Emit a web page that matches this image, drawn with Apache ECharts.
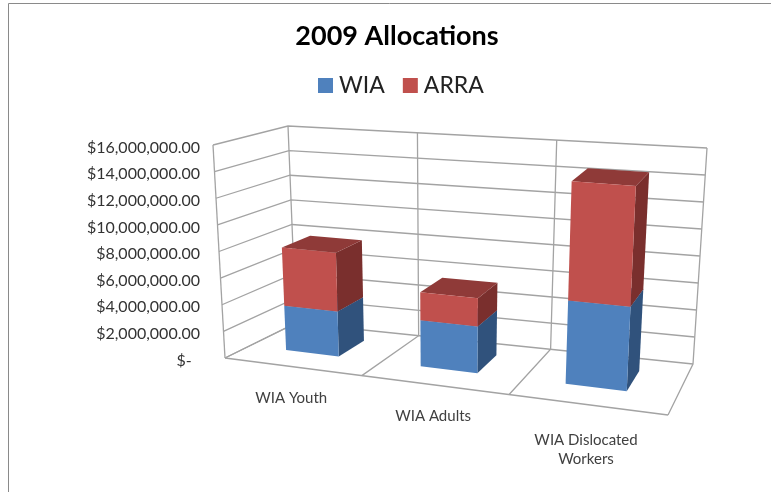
<!DOCTYPE html>
<html>
<head>
<meta charset="utf-8">
<style>
  html, body { margin: 0; padding: 0; background: #fff; }
  #chart { width: 771px; height: 492px; }
</style>
<script src="https://cdn.jsdelivr.net/npm/echarts@6/dist/echarts.min.js"></script>
</head>
<body>
<div id="chart"></div>
<script>
var categories = ['WIA Youth', 'WIA Adults', 'WIA Dislocated\nWorkers'];
var wiaValues = [3400000, 3420000, 6000000];
var arraValues = [4450000, 2080000, 8600000];
var yMax = 16000000;
var yStep = 2000000;
var yTicks = [0, 2000000, 4000000, 6000000, 8000000, 10000000, 12000000, 14000000, 16000000];

var FONT = 'Lato';
var GRID_LEFT = 204, GRID_TOP = 145, GRID_W = 464, GRID_H = 213;
var GRID_BOTTOM = GRID_TOP + GRID_H;

// corners of the 3d box on screen: front/back, left/right, bottom/top
var FLB = [225, 358], FRB = [668, 415], BLB = [296, 323], BRB = [693, 364];
var FLT = [213, 145], FRT = [680, 182], BLT = [288, 126], BRT = [707, 148];
var PERSP_X = 0.894;
var BAR_FRONT = 0.35, BAR_BACK = 0.76, BAR_SHIFT = -0.006;

function mix(a, b, t) {
    return [a[0] + (b[0] - a[0]) * t, a[1] + (b[1] - a[1]) * t];
}
// x: 0..1 along categories, d: 0 front..1 back, v: 0..1 of the value axis
function project(x, d, v) {
    var X = x * PERSP_X / (1 + x * (PERSP_X - 1));
    var bottom = mix(mix(FLB, FRB, X), mix(BLB, BRB, X), d);
    var top = mix(mix(FLT, FRT, X), mix(BLT, BRT, X), d);
    return mix(bottom, top, v);
}
function valueToV(api, val) {
    return (GRID_BOTTOM - api.coord([0, val])[1]) / GRID_H;
}

function renderWalls(params, api) {
    var lineStyle = { stroke: '#a3a3a3', lineWidth: 1.3, fill: null };
    var children = [];
    function line(points) {
        children.push({ type: 'polyline', shape: { points: points }, style: lineStyle, silent: true });
    }
    yTicks.forEach(function (t) {
        var v = valueToV(api, t);
        line([project(0, 0, v), project(0, 1, v), project(1, 1, v)]);
    });
    [0, 1 / 3, 2 / 3, 1].forEach(function (x) {
        line([project(x, 0, 0), project(x, 1, 0), project(x, 1, 1)]);
    });
    line([project(0, 0, 0), project(0, 0, 1)]);
    line([project(0, 0, 0), project(1, 0, 0)]);
    return { type: 'group', children: children };
}

function barRenderer(front, side, top) {
    return function (params, api) {
        var i = api.value(0);
        var cx = api.coord([i, 0])[0];
        var half = api.size([1, 0])[0] * 0.2;
        var x0 = (cx - half - GRID_LEFT) / GRID_W + BAR_SHIFT;
        var x1 = (cx + half - GRID_LEFT) / GRID_W + BAR_SHIFT;
        var v0 = valueToV(api, api.value(2));
        var v1 = valueToV(api, api.value(2) + api.value(1));
        function face(points, fill) {
            return { type: 'polygon', shape: { points: points }, style: { fill: fill } };
        }
        return {
            type: 'group',
            children: [
                face([project(x1, BAR_FRONT, v0), project(x1, BAR_BACK, v0), project(x1, BAR_BACK, v1), project(x1, BAR_FRONT, v1)], side),
                face([project(x0, BAR_FRONT, v1), project(x1, BAR_FRONT, v1), project(x1, BAR_BACK, v1), project(x0, BAR_BACK, v1)], top),
                face([project(x0, BAR_FRONT, v0), project(x1, BAR_FRONT, v0), project(x1, BAR_FRONT, v1), project(x0, BAR_FRONT, v1)], front)
            ]
        };
    };
}

function renderCatLabel(params, api) {
    var i = api.value(0);
    var x = (api.coord([i, 0])[0] - GRID_LEFT) / GRID_W;
    var p = project(x, 0, 0);
    var text = categories[i];
    return {
        type: 'text',
        silent: true,
        style: {
            text: text,
            x: p[0] - 1,
            y: p[1] + (text.indexOf('\n') >= 0 ? 26 : 22),
            align: 'center',
            verticalAlign: 'top',
            fontFamily: FONT,
            fontSize: 15,
            lineHeight: 19,
            fill: '#404040'
        }
    };
}

var wiaData = categories.map(function (c, i) { return [i, wiaValues[i], 0]; });
var arraData = categories.map(function (c, i) { return [i, arraValues[i], wiaValues[i]]; });

var chart = echarts.init(document.getElementById('chart'));
chart.setOption({
    animation: false,
    backgroundColor: '#fff',
    title: {
        text: '2009 Allocations',
        left: 392,
        top: 18,
        textAlign: 'center',
        textStyle: { fontFamily: FONT, fontSize: 27, fontWeight: 'bold', color: '#000' }
    },
    legend: {
        data: ['WIA', 'ARRA'],
        left: 313,
        top: 69,
        icon: 'rect',
        itemWidth: 15,
        itemHeight: 15,
        itemGap: 18,
        textStyle: { fontFamily: FONT, fontSize: 23, color: '#222', padding: [0, 0, 0, 1] }
    },
    grid: { left: GRID_LEFT, top: GRID_TOP, width: GRID_W, height: GRID_H },
    xAxis: { type: 'category', data: categories, show: false },
    yAxis: {
        type: 'value',
        min: 0,
        max: yMax,
        interval: yStep,
        axisLine: { show: false },
        axisTick: { show: false },
        splitLine: { show: false },
        axisLabel: {
            margin: 4,
            fontFamily: FONT,
            fontSize: 16,
            color: '#333',
            verticalAlign: 'top',
            lineHeight: 5,
            formatter: function (v) {
                if (v === 0) return '$-  ';
                return '$' + v.toLocaleString('en-US', { minimumFractionDigits: 2 });
            }
        }
    },
    graphic: [{
        type: 'polyline',
        shape: { points: [[8.5, 492], [8.5, 3.5], [771, 3.5]] },
        style: { stroke: '#8a8a8a', lineWidth: 1, fill: null },
        silent: true
    }],
    series: [
        { name: 'walls', type: 'custom', z: 1, data: [[0, 0, 0]], renderItem: renderWalls, silent: true },
        { name: 'WIA', type: 'custom', z: 2, data: wiaData, itemStyle: { color: '#4f81bd' },
          renderItem: barRenderer('#4f81bd', '#30527c', '#3f6897') },
        { name: 'ARRA', type: 'custom', z: 3, data: arraData, itemStyle: { color: '#c0504d' },
          renderItem: barRenderer('#c0504d', '#7a2f2d', '#8f3a38') },
        { name: 'labels', type: 'custom', z: 4, data: categories.map(function (c, i) { return [i, 0, 0]; }),
          renderItem: renderCatLabel, silent: true }
    ]
});
</script>
</body>
</html>
